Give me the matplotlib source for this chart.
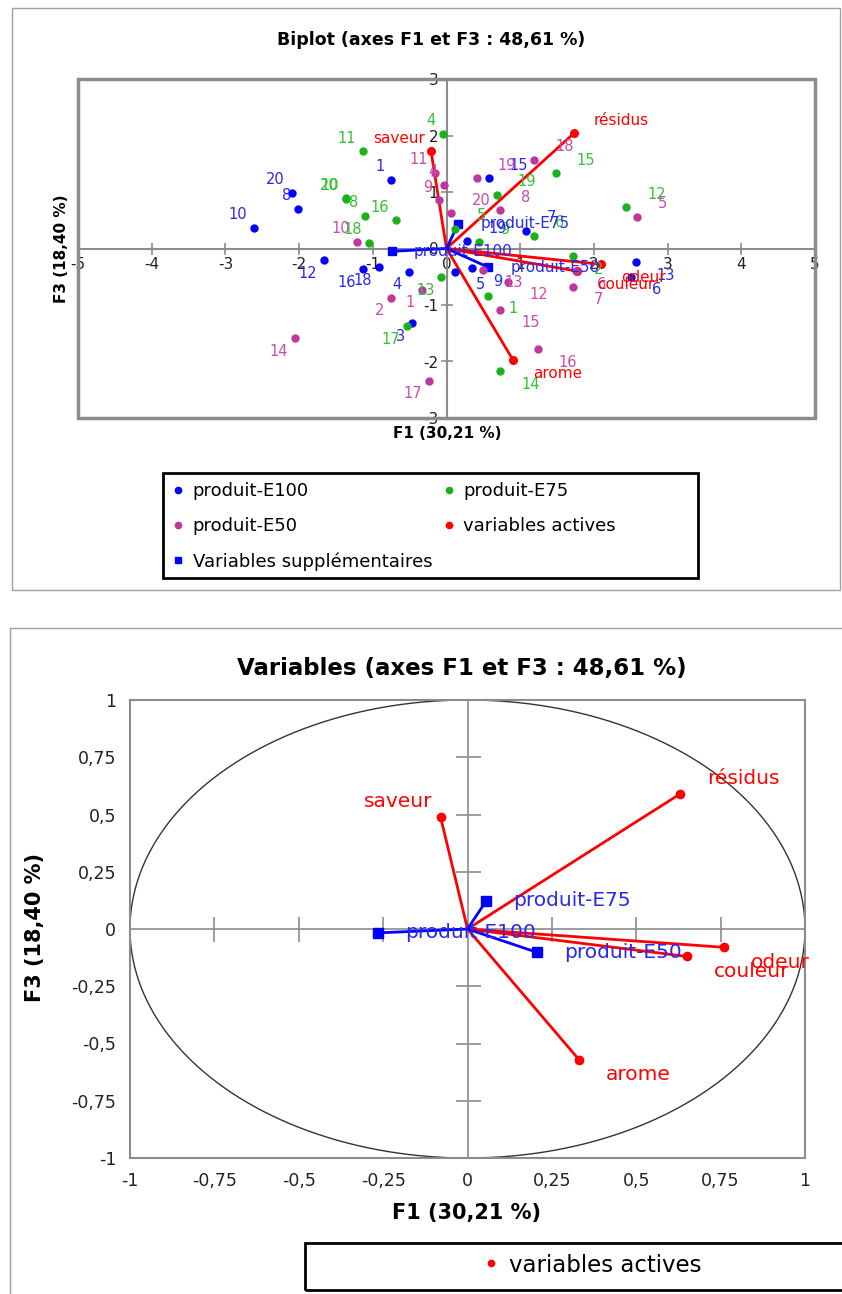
import matplotlib
matplotlib.use('Agg')
import matplotlib.pyplot as plt
from matplotlib.patches import Rectangle
from matplotlib.lines import Line2D
import numpy as np

plt.rcParams['font.family'] = ['DejaVu Sans']

# ---------------- data : biplot (F1 / F3) ----------------
e100_labels = ['1', '20', '8', '10', '12', '16', '18', '4', '3', '5', '9', '19', '7', '15', '13', '6']
e100_f1 = [-0.75, -2.10, -2.01, -2.61, -1.66, -1.13, -0.92, -0.51, -0.47, 0.11, 0.35, 0.28, 1.08, 0.575, 2.57, 2.51]
e100_f3 = [1.22, 0.99, 0.70, 0.37, -0.21, -0.37, -0.33, -0.41, -1.32, -0.41, -0.35, 0.13, 0.31, 1.24, -0.24, -0.50]

e75_labels = ['4', '11', '20', '10', '8', '16', '18', '15', '19', '12', '5', '9', '6', '2', '13', '1', '17', '14']
e75_f1 = [-0.05, -1.13, -1.37, -1.36, -1.10, -0.69, -1.05, 1.48, 0.68, 2.44, 0.12, 0.44, 1.19, 1.71, -0.07, 0.56, -0.53, 0.73]
e75_f3 = [2.03, 1.72, 0.89, 0.88, 0.58, 0.50, 0.10, 1.33, 0.95, 0.73, 0.35, 0.11, 0.23, -0.14, -0.51, -0.84, -1.38, -2.17]

e50_labels = ['11', '4', '9', '20', '10', '19', '18', '8', '5', '1', '2', '14', '17', '15', '16', '12', '13', '7', '6']
e50_f1 = [-0.16, -0.03, -0.10, 0.06, -1.21, 0.41, 1.19, 0.73, 2.58, -0.33, -0.75, -2.05, -0.24, 0.73, 1.24, 0.84, 0.50, 1.71, 1.76]
e50_f3 = [1.34, 1.13, 0.85, 0.62, 0.12, 1.24, 1.57, 0.68, 0.56, -0.73, -0.87, -1.59, -2.34, -1.08, -1.78, -0.59, -0.38, -0.68, -0.40]

act_names = ['saveur', 'résidus', 'arome', 'odeur', 'couleur']
act_bi_f1 = [-0.21, 1.73, 0.905, 2.10, 1.77]
act_bi_f3 = [1.72, 2.04, -1.98, -0.28, -0.40]

sup_names = ['produit-E100', 'produit-E75', 'produit-E50']
sup_bi_f1 = [-0.74, 0.16, 0.565]
sup_bi_f3 = [-0.05, 0.44, -0.33]

# ---------------- data : correlation circle ----------------
act_c_f1 = [-0.08, 0.63, 0.33, 0.76, 0.65]
act_c_f3 = [0.49, 0.59, -0.57, -0.08, -0.12]
sup_c_f1 = [-0.266, 0.056, 0.206]
sup_c_f3 = [-0.017, 0.124, -0.102]

bi_xticks = [-5, -4, -3, -2, -1, 0, 1, 2, 3, 4, 5]
bi_yticks = [-3, -2, -1, 0, 1, 2, 3]
c_ticks = [-1, -0.75, -0.5, -0.25, 0, 0.25, 0.5, 0.75, 1]
c_ticklabels = ['-1', '-0,75', '-0,5', '-0,25', '0', '0,25', '0,5', '0,75', '1']

# ---------------- colours ----------------
BLUE = '#0000FF'
BLUE_T = '#2828F0'
GREEN = '#1CB01C'
GREEN_T = '#33C233'
MAG = '#C0369E'
MAG_T = '#CC4AAE'
RED = '#FF0000'
GRAY = '#8C8C8C'

W, H = 842, 1294
fig = plt.figure(figsize=(W / 100, H / 100), dpi=100)


def fx(px):
    return px / W


def fy(py):
    return 1 - py / H


# outer panel frames
fig.patches.append(Rectangle((fx(12), fy(590)), fx(840) - fx(12), fy(8) - fy(590),
                             transform=fig.transFigure, fill=False, ec='#a0a0a0', lw=1))
fig.patches.append(Rectangle((fx(10), fy(1300)), fx(860) - fx(10), fy(628) - fy(1300),
                             transform=fig.transFigure, fill=False, ec='#a0a0a0', lw=1))

# ================= top : biplot =================
ax1 = fig.add_axes([fx(78), fy(418), fx(815) - fx(78), fy(79) - fy(418)])
ax1.set_xlim(-5, 5)
ax1.set_ylim(-3, 3)
for s in ['top', 'right']:
    ax1.spines[s].set_visible(False)
ax1.spines['left'].set_position(('data', 0))
ax1.spines['bottom'].set_position(('data', 0))
for s in ['left', 'bottom']:
    ax1.spines[s].set_color(GRAY)
    ax1.spines[s].set_linewidth(1.5)
ax1.set_xticks(bi_xticks)
ax1.set_xticklabels([str(v) for v in bi_xticks])
ax1.set_yticks(bi_yticks)
ax1.set_yticklabels([str(v) for v in bi_yticks])
ax1.tick_params(direction='inout', length=8, width=1.2, color=GRAY, labelsize=11,
                labelcolor='#222222', pad=2)
ax1.add_patch(Rectangle((0, 0), 1, 1, transform=ax1.transAxes, fill=False,
                        ec=GRAY, lw=2.5, clip_on=False, zorder=5))


def label(ax, x, y, s, color, size, roff, loff, voff, sup=False):
    if sup:
        dx, ha, dy = roff, 'left', 0
    else:
        if x >= 0:
            dx, ha = roff, 'left'
        else:
            dx, ha = -loff, 'right'
        dy = voff if y >= 0 else -voff
    ax.annotate(s, (x, y), xytext=(dx, dy), textcoords='offset pixels',
                ha=ha, va='center', color=color, fontsize=size, zorder=6)


for x, y in zip(act_bi_f1, act_bi_f3):
    ax1.plot([0, x], [0, y], color=RED, lw=2, zorder=3)
ax1.plot(act_bi_f1, act_bi_f3, 'o', color=RED, ms=5.5, ls='none', zorder=4)
for x, y in zip(sup_bi_f1, sup_bi_f3):
    ax1.plot([0, x], [0, y], color=BLUE, lw=2, zorder=3)
ax1.plot(sup_bi_f1, sup_bi_f3, 's', color=BLUE, ms=5.5, ls='none', zorder=4)

ax1.plot(e100_f1, e100_f3, 'o', color=BLUE, ms=5, ls='none', zorder=4)
ax1.plot(e75_f1, e75_f3, 'o', color=GREEN, ms=5, ls='none', zorder=4)
ax1.plot(e50_f1, e50_f3, 'o', color=MAG, ms=5, ls='none', zorder=4)

for x, y, s in zip(e100_f1, e100_f3, e100_labels):
    label(ax1, x, y, s, BLUE_T, 10.5, 21, 7, 13)
for x, y, s in zip(e75_f1, e75_f3, e75_labels):
    label(ax1, x, y, s, GREEN_T, 10.5, 21, 7, 13)
for x, y, s in zip(e50_f1, e50_f3, e50_labels):
    label(ax1, x, y, s, MAG_T, 10.5, 21, 7, 13)
for x, y, s in zip(act_bi_f1, act_bi_f3, act_names):
    label(ax1, x, y, s, RED, 11, 20, 6, 13)
for x, y, s in zip(sup_bi_f1, sup_bi_f3, sup_names):
    label(ax1, x, y, s, BLUE_T, 11, 22, 22, 0, sup=True)

fig.text(fx(431), fy(40), 'Biplot (axes F1 et F3 : 48,61 %)', ha='center', va='center',
         fontsize=12.5, fontweight='bold')
fig.text(fx(447), fy(433), 'F1 (30,21 %)', ha='center', va='center', fontsize=11, fontweight='bold')
fig.text(fx(62), fy(249), 'F3 (18,40 %)', ha='center', va='center', fontsize=11,
         fontweight='bold', rotation=90)

# legend (top)
h_e100 = Line2D([], [], marker='o', ls='none', color=BLUE, ms=4.5)
h_e75 = Line2D([], [], marker='o', ls='none', color=GREEN, ms=4.5)
h_e50 = Line2D([], [], marker='o', ls='none', color=MAG, ms=4.5)
h_act = Line2D([], [], marker='o', ls='none', color=RED, ms=4.5)
h_sup = Line2D([], [], marker='s', ls='none', color=BLUE, ms=4.5)
fig.legend([h_e100, h_e50, h_sup, h_e75, h_act],
           ['produit-E100', 'produit-E50', 'Variables supplémentaires', 'produit-E75', 'variables actives'],
           ncol=2, loc='upper left', bbox_to_anchor=(fx(172), fy(482)), frameon=False,
           fontsize=13, handlelength=0.7, handletextpad=0.45, columnspacing=0.55,
           labelspacing=0.95, borderpad=0, borderaxespad=0)
fig.patches.append(Rectangle((fx(163), fy(578)), fx(698) - fx(163), fy(473) - fy(578),
                             transform=fig.transFigure, fill=False, ec='black', lw=2))

# ================= bottom : correlation circle =================
ax2 = fig.add_axes([fx(130), fy(1158), fx(805) - fx(130), fy(700) - fy(1158)])
ax2.set_xlim(-1, 1)
ax2.set_ylim(-1, 1)
for s in ax2.spines.values():
    s.set_color(GRAY)
    s.set_linewidth(1.5)
ax2.set_xticks(c_ticks)
ax2.set_xticklabels(c_ticklabels)
ax2.set_yticks(c_ticks)
ax2.set_yticklabels(c_ticklabels)
ax2.tick_params(length=0, labelsize=12.5, labelcolor='#222222')
ax2.tick_params(axis='x', pad=10)
ax2.tick_params(axis='y', pad=10)
ax2.axhline(0, color=GRAY, lw=1.2, zorder=1)
ax2.axvline(0, color=GRAY, lw=1.2, zorder=1)
inner = [t for t in c_ticks if abs(t) not in (0, 1)]
ax2.plot([0] * len(inner), inner, ls='none', marker='_', ms=18, mew=1.2, color=GRAY, zorder=1)
ax2.plot(inner, [0] * len(inner), ls='none', marker='|', ms=18, mew=1.2, color=GRAY, zorder=1)
th = np.linspace(0, 2 * np.pi, 400)
ax2.plot(np.cos(th), np.sin(th), color='#333333', lw=1, zorder=2)

for x, y in zip(act_c_f1, act_c_f3):
    ax2.plot([0, x], [0, y], color=RED, lw=2, zorder=3)
ax2.plot(act_c_f1, act_c_f3, 'o', color=RED, ms=6, ls='none', zorder=4)
for x, y in zip(sup_c_f1, sup_c_f3):
    ax2.plot([0, x], [0, y], color=BLUE, lw=2, zorder=3)
ax2.plot(sup_c_f1, sup_c_f3, 's', color=BLUE, ms=6.5, ls='none', zorder=4)
for x, y, s in zip(act_c_f1, act_c_f3, act_names):
    label(ax2, x, y, s, RED, 14.5, 27, 8, 15)
for x, y, s in zip(sup_c_f1, sup_c_f3, sup_names):
    label(ax2, x, y, s, BLUE_T, 14.5, 27, 27, 0, sup=True)

fig.text(fx(462), fy(668), 'Variables (axes F1 et F3 : 48,61 %)', ha='center', va='center',
         fontsize=16.5, fontweight='bold')
fig.text(fx(467), fy(1213), 'F1 (30,21 %)', ha='center', va='center', fontsize=15, fontweight='bold')
fig.text(fx(35), fy(928), 'F3 (18,40 %)', ha='center', va='center', fontsize=15,
         fontweight='bold', rotation=90)

fig.legend([h_act], ['variables actives'], loc='center', bbox_to_anchor=(fx(593), fy(1265)),
           frameon=False, fontsize=16.5, handlelength=0.6, handletextpad=0.5,
           borderpad=0, borderaxespad=0)
fig.patches.append(Rectangle((fx(305), fy(1290)), fx(900) - fx(305), fy(1243) - fy(1290),
                             transform=fig.transFigure, fill=False, ec='black', lw=2))

fig.savefig('out.png', dpi=100)
